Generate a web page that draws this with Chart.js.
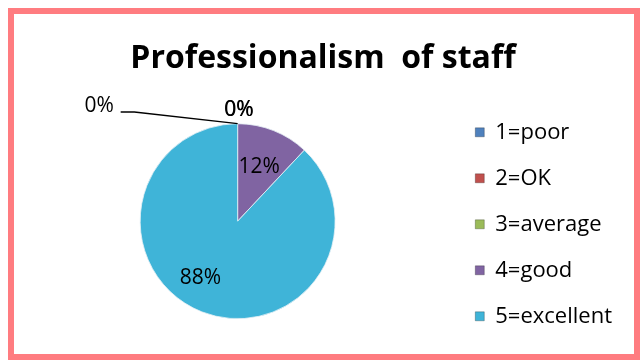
<!DOCTYPE html>
<html>
<head>
<meta charset="utf-8">
<script src="https://cdn.jsdelivr.net/npm/chart.js@4/dist/chart.umd.min.js"></script>
<style>
  html, body { margin: 0; padding: 0; background: #ffffff; }
  #wrap { position: relative; width: 640px; height: 363px; }
  #frame { position: absolute; left: 8px; top: 8px; width: 632px; height: 352px; box-sizing: border-box; border: 6px solid #FF7C80; pointer-events: none; }
  canvas { position: absolute; left: 0; top: 0; }
</style>
</head>
<body>
<div id="wrap">
  <canvas id="c" width="640" height="363"></canvas>
  <div id="frame"></div>
</div>
<script>
const categories = ["1=poor", "2=OK", "3=average", "4=good", "5=excellent"];
const percentValues = [0, 0, 0, 12, 88];
const sliceLabels = ["0%", "0%", "0%", "12%", "88%"];
const chartTitle = "Professionalism  of staff";

const legendColors = ["#4F81BD", "#C0504D", "#9BBB59", "#8064A2", "#3FB4D8"];
const topColors = ["#6A98D0", "#D86A66", "#B2D070", "#9274BC", "#45C0E4"];
const bottomColors = ["#3C6AA0", "#A03C3A", "#7E9E44", "#6E5290", "#2E98BC"];

function sliceFill(ctx) {
  const chart = ctx.chart;
  const meta = chart.getDatasetMeta(0);
  const i = ctx.dataIndex;
  const arc = meta && meta.data && meta.data[i];
  if (!arc || !arc.outerRadius) return legendColors[i];
  const g = chart.ctx.createLinearGradient(0, arc.y - arc.outerRadius, 0, arc.y + arc.outerRadius);
  g.addColorStop(0, topColors[i]);
  g.addColorStop(1, bottomColors[i]);
  return g;
}

const labelPlugin = {
  id: 'sliceLabels',
  afterDatasetsDraw(chart) {
    const ctx = chart.ctx;
    const meta = chart.getDatasetMeta(0);
    ctx.save();
    ctx.fillStyle = '#000';
    ctx.font = '21px "Open Sans"';
    ctx.textAlign = 'center';
    ctx.textBaseline = 'middle';
    meta.data.forEach((arc, i) => {
      const p = arc.getProps(['x', 'y', 'startAngle', 'endAngle', 'outerRadius'], true);
      const r = p.outerRadius;
      const v = percentValues[i];
      if (v > 0) {
        const mid = (p.startAngle + p.endAngle) / 2;
        const f = v > 50 ? 0.63 : 0.6;
        const dx = v > 50 ? -0.15 * r : 0;
        ctx.fillText(sliceLabels[i], p.x + Math.cos(mid) * r * f + dx, p.y + Math.sin(mid) * r * f);
      } else if (i < 2) {
        const tx = p.x + Math.cos(p.startAngle) * r;
        const ty = p.y + Math.sin(p.startAngle) * r;
        ctx.fillText(sliceLabels[i], tx + 1 + i * 0.5, ty - 0.14 * r);
      } else {
        const tx = p.x + Math.cos(p.startAngle) * r;
        const ty = p.y + Math.sin(p.startAngle) * r;
        ctx.fillText(sliceLabels[i], tx - 1.42 * r, ty - 0.18 * r);
        ctx.beginPath();
        ctx.strokeStyle = '#000';
        ctx.lineWidth = 1.3;
        ctx.moveTo(tx - 1.2 * r, ty - 0.12 * r);
        ctx.lineTo(tx - 1.06 * r, ty - 0.12 * r);
        ctx.lineTo(tx, ty);
        ctx.stroke();
      }
    });
    ctx.restore();
  }
};

new Chart(document.getElementById('c'), {
  type: 'pie',
  data: {
    labels: categories,
    datasets: [{
      data: percentValues,
      backgroundColor: sliceFill,
      borderColor: 'rgba(230,240,245,0.8)',
      borderWidth: 1,
      radius: '71%'
    }]
  },
  options: {
    responsive: false,
    animation: false,
    rotation: 0,
    layout: { padding: { left: 24, right: 18, top: 0, bottom: 4 } },
    plugins: {
      title: {
        display: true,
        text: chartTitle,
        color: '#000',
        font: { family: 'Open Sans', size: 32, weight: 'bold' },
        padding: { top: 40, bottom: 5 }
      },
      legend: {
        position: 'right',
        fullSize: false,
        title: { display: true, text: ' ', color: '#000', font: { size: 1 }, padding: 2.5 },
        labels: {
          color: '#000',
          font: { family: 'Open Sans', size: 22, lineHeight: 1 },
          boxWidth: 9,
          boxHeight: 9,
          padding: 24,
          generateLabels(chart) {
            return categories.map((c, i) => ({
              text: c,
              fillStyle: legendColors[i],
              strokeStyle: 'rgba(0,0,0,0.25)',
              fontColor: '#000',
              lineWidth: 1,
              hidden: false,
              index: i
            }));
          }
        }
      },
      tooltip: { enabled: false }
    }
  },
  plugins: [labelPlugin]
});
</script>
</body>
</html>
